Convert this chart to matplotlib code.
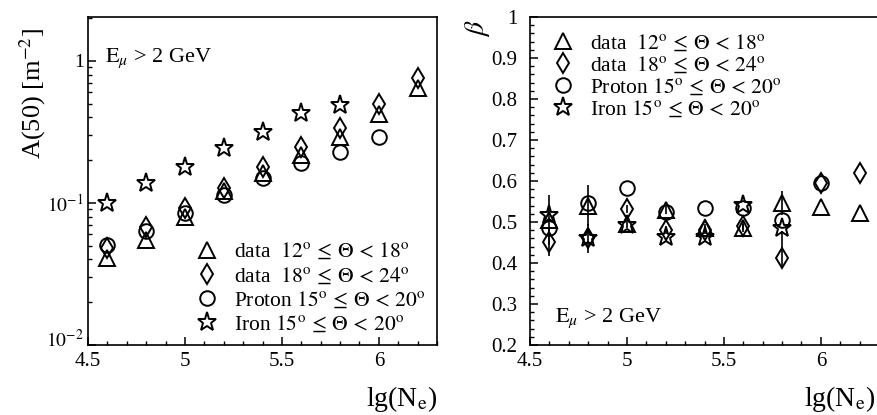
import numpy as np
import matplotlib
matplotlib.use("Agg")
import matplotlib.pyplot as plt
import matplotlib.transforms as mtransforms
from matplotlib.ticker import FixedLocator, FixedFormatter, MultipleLocator, LogLocator, NullFormatter

plt.rcParams['font.family'] = ['Liberation Serif', 'DejaVu Serif']
plt.rcParams['mathtext.fontset'] = 'stix'

# ---------------- A(50) vs lg(Ne) ----------------
lgne = [4.6, 4.8, 5.0, 5.2, 5.4, 5.6, 5.8, 6.0, 6.2]
a50_data12 = [0.041, 0.055, 0.080, 0.122, 0.162, 0.218, 0.29, 0.42, 0.645]
a50_data18 = [0.048, 0.068, 0.092, 0.127, 0.180, 0.248, 0.34, 0.50, 0.76]
lgne_p = [4.6, 4.8, 5.0, 5.2, 5.4, 5.6, 5.8, 6.0]
a50_proton = [0.0506, 0.0635, 0.085, 0.114, 0.149, 0.192, 0.229, 0.293]
lgne_fe = [4.6, 4.8, 5.0, 5.2, 5.4, 5.6, 5.8]
a50_iron = [0.100, 0.138, 0.179, 0.244, 0.316, 0.43, 0.49]

# ---------------- beta vs lg(Ne) ----------------
beta_data12 = [0.505, 0.54, 0.495, 0.53, 0.485, 0.485, 0.546, 0.537, 0.521]
beta_data12_err = [0.06, 0.05, 0.01, 0.01, 0.01, 0.01, 0.03, 0.0, 0.0]
beta_data18 = [0.451, 0.46, 0.532, 0.48, 0.48, 0.49, 0.412, 0.595, 0.62]
beta_data18_lo = [0.035, 0.035, 0.01, 0.01, 0.01, 0.01, 0.024, 0.0, 0.0]
beta_data18_hi = [0.035, 0.035, 0.01, 0.01, 0.01, 0.01, 0.065, 0.0, 0.0]
beta_proton = [0.485, 0.546, 0.583, 0.525, 0.534, 0.535, 0.505, 0.595]
beta_iron = [0.517, 0.461, 0.493, 0.463, 0.464, 0.541, 0.485]

lab_d12 = r'data  $12^{\rm o}\,\leq\,\Theta\,<\,18^{\rm o}$'
lab_d18 = r'data  $18^{\rm o}\,\leq\,\Theta\,<\,24^{\rm o}$'
lab_p = r'Proton $15^{\rm o}\,\leq\,\Theta\,<\,20^{\rm o}$'
lab_fe = r'Iron $15^{\rm o}\,\leq\,\Theta\,<\,20^{\rm o}$'

mk = dict(linestyle='none', color='black', markerfacecolor='none', markeredgewidth=1.4)
eb = dict(ecolor='black', elinewidth=1.2, capsize=0)
ms_tri, ms_dia, ms_cir, ms_star = 11, 10, 10.5, 14

fig = plt.figure(figsize=(8.77, 4.15), dpi=100)
ax1 = fig.add_axes([88 / 877, 70 / 415, 349 / 877, 328 / 415])
ax2 = fig.add_axes([530 / 877, 70 / 415, 349 / 877, 328 / 415])

# left: log-scale A(50)
h1, = ax1.plot(lgne, a50_data12, marker='^', markersize=ms_tri, **mk)
h2, = ax1.plot(lgne, a50_data18, marker='d', markersize=ms_dia, **mk)
h3, = ax1.plot(lgne_p, a50_proton, marker='o', markersize=ms_cir, **mk)
h4, = ax1.plot(lgne_fe, a50_iron, marker='*', markersize=ms_star, **mk)
ax1.set_yscale('log')
ax1.set_ylim(0.01, 2.04)
ax1.set_xlim(4.5, 6.3)
ax1.yaxis.set_major_locator(FixedLocator([0.01, 0.1, 1]))
ax1.yaxis.set_major_formatter(FixedFormatter([r'$10^{-2}$', r'$10^{-1}$', '1']))
ax1.yaxis.set_minor_locator(LogLocator(base=10, subs=np.arange(2, 10)))
ax1.yaxis.set_minor_formatter(NullFormatter())
ax1.legend([h1, h2, h3, h4], [lab_d12, lab_d18, lab_p, lab_fe], loc='upper left',
           bbox_to_anchor=(0.31, 0.315), frameon=False, fontsize=15.5,
           handlelength=1.0, handletextpad=0.75, labelspacing=0.17,
           borderpad=0, borderaxespad=0)
ax1.text(0.049, 0.863, r'$\mathrm{E}_{\mu}$ > 2 GeV', transform=ax1.transAxes,
         fontsize=16, va='baseline')
ax1.text(1.0, -0.165, r'lg(N$_{\rm e}$)', transform=ax1.transAxes,
         fontsize=20, ha='right', va='center')
fig.text(33 / 877, 1 - 93 / 415, r'A(50) [m$^{-2}$]', rotation=90,
         fontsize=19, ha='center', va='center')

# right: beta
ax2.errorbar(lgne, beta_data12, yerr=beta_data12_err, marker='^', markersize=ms_tri, **mk, **eb)
ax2.errorbar(lgne, beta_data18, yerr=[beta_data18_lo, beta_data18_hi], marker='d',
             markersize=ms_dia, **mk, **eb)
ax2.plot(lgne_p, beta_proton, marker='o', markersize=ms_cir, **mk)
ax2.plot(lgne_fe, beta_iron, marker='*', markersize=ms_star, **mk)
ax2.set_xlim(4.5, 6.3)
ax2.set_ylim(0.2, 1.0)
ax2.yaxis.set_major_locator(FixedLocator([0.2, 0.3, 0.4, 0.5, 0.6, 0.7, 0.8, 0.9, 1.0]))
ax2.yaxis.set_major_formatter(FixedFormatter(['0.2', '0.3', '0.4', '0.5', '0.6', '0.7', '0.8', '0.9', '1']))
ax2.yaxis.set_minor_locator(MultipleLocator(0.02))
ax2.legend([h1, h2, h3, h4], [lab_d12, lab_d18, lab_p, lab_fe], loc='upper left',
           bbox_to_anchor=(0.065, 0.95), frameon=False, fontsize=15.5,
           handlelength=1.0, handletextpad=0.75, labelspacing=0.06,
           borderpad=0, borderaxespad=0)
ax2.text(0.072, 0.070, r'$\mathrm{E}_{\mu}$ > 2 GeV', transform=ax2.transAxes,
         fontsize=16, va='baseline')
ax2.text(0.99, -0.165, r'lg(N$_{\rm e}$)', transform=ax2.transAxes,
         fontsize=20, ha='right', va='center')
fig.text(477 / 877, 1 - 28 / 415, r'$\beta$', rotation=90,
         fontsize=20, ha='center', va='center')

for ax in (ax1, ax2):
    ax.xaxis.set_major_locator(FixedLocator([4.5, 5.0, 5.5, 6.0]))
    ax.xaxis.set_major_formatter(FixedFormatter(['4.5', '5', '5.5', '6']))
    ax.xaxis.set_minor_locator(MultipleLocator(0.1))
    ax.tick_params(which='both', direction='in', top=False, right=False, labelsize=15)
    ax.tick_params(which='major', length=6, width=1.1)
    ax.tick_params(which='minor', length=3, width=1.0)
    ax.tick_params(axis='x', pad=5)
    for s in ax.spines.values():
        s.set_linewidth(1.2)
ax1.tick_params(axis='y', pad=3, labelsize=14)
ax2.tick_params(axis='y', pad=9)

# lift the 10^-2 label a little so it clears the 4.5 label below it
lbl = ax1.yaxis.get_major_ticks()[0].label1
lbl.set_transform(lbl.get_transform() + mtransforms.ScaledTranslation(0, 5 / 72, fig.dpi_scale_trans))

fig.savefig('out.png', dpi=100)
